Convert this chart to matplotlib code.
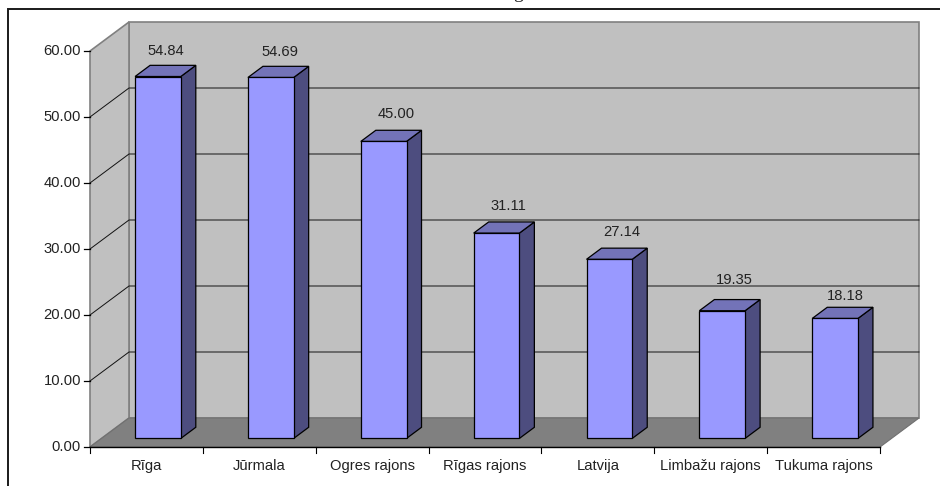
#!/usr/bin/env python

import matplotlib
matplotlib.use('Agg')
import matplotlib.pyplot as plt
from matplotlib.lines import Line2D
from matplotlib.patches import Polygon

CATEGORIES = ['Rīga', 'Jūrmala', 'Ogres rajons', 'Rīgas rajons', 'Latvija', 'Limbažu rajons', 'Tukuma rajons']
VALUES = [54.84, 54.69, 45.00, 31.11, 27.14, 19.35, 18.18]
VALUE_LABELS = ['54.84', '54.69', '45.00', '31.11', '27.14', '19.35', '18.18']
Y_TICKS = [0, 10, 20, 30, 40, 50, 60]
Y_TICK_LABELS = ['0.00', '10.00', '20.00', '30.00', '40.00', '50.00', '60.00']
# label placement differs per bar in the original, px
LABEL_NUDGE_X = [0, 2, 5, 4.5, 5, 5, 3]
LABEL_RISE = [14, 14.3, 16, 16, 15.7, 19.7, 11]

W, H = 940, 486
DPI = 100
PX_PER_CAT = 790 / 7.0
PX_PER_VAL = 396 / 60.0
DEPTH_X = 39 / PX_PER_CAT
DEPTH_Y = 29 / PX_PER_VAL
BAR_W = 0.405
GAP = (1 - BAR_W) / 2
D0, D1 = 0.295, 0.68
FONT = 'Liberation Sans'
FS = 10.6
TXT = '#222222'


def pt(x, y, depth=0.0):
    return (x + depth * DEPTH_X, y + depth * DEPTH_Y)


def main():
    fig = plt.figure(figsize=(W / DPI, H / DPI), dpi=DPI)
    ax = fig.add_axes([0, 0, 1, 1])
    ax.set_xlim(-90 / PX_PER_CAT, (W - 90) / PX_PER_CAT)
    ax.set_ylim(-(H - 447) / PX_PER_VAL, 447 / PX_PER_VAL)
    ax.axis('off')

    n = len(CATEGORIES)
    top = Y_TICKS[-1]

    # walls and floor
    ax.add_patch(Polygon([pt(0, 0, 1), pt(n, 0, 1), pt(n, top, 1), pt(0, top, 1)],
                         fc='#c0c0c0', ec='#808080', lw=1.2, zorder=1))
    ax.add_patch(Polygon([pt(0, 0, 0), pt(0, 0, 1), pt(0, top, 1), pt(0, top, 0)],
                         fc='#c0c0c0', ec='#808080', lw=1.2, zorder=1))
    ax.add_patch(Polygon([pt(0, 0, 0), pt(n, 0, 0), pt(n, 0, 1), pt(0, 0, 1)],
                         fc='#808080', ec='#707070', lw=0.8, zorder=1.5))

    # gridlines
    for v in Y_TICKS[1:-1]:
        x0, y0 = pt(0, v, 0)
        x1, y1 = pt(0, v, 1)
        x2, y2 = pt(n, v, 1)
        ax.plot([x0, x1, x2], [y0, y1, y2], color='#111111', lw=0.7, zorder=2,
                solid_joinstyle='miter')

    # axis lines and ticks
    ax.plot([0, n], [0, 0], color='black', lw=1.0, zorder=3)
    tick_x = 6 / PX_PER_CAT
    tick_y = 6 / PX_PER_VAL
    for v, lab in zip(Y_TICKS, Y_TICK_LABELS):
        ax.plot([-tick_x, 0], [v, v], color='black', lw=0.9, zorder=3)
        ax.text(-9 / PX_PER_CAT, v, lab, ha='right', va='center', family=FONT,
                fontsize=FS, color=TXT)
    for i in range(n + 1):
        ax.plot([i, i], [0, -tick_y], color='black', lw=0.8, zorder=3)
    for i, lab in enumerate(CATEGORIES):
        ax.text(i + 0.5, -19 / PX_PER_VAL, lab, ha='center', va='center', family=FONT,
                fontsize=FS, color=TXT)

    # bars
    for i, (v, lab) in enumerate(zip(VALUES, VALUE_LABELS)):
        xl, xr = i + GAP, i + GAP + BAR_W
        ax.add_patch(Polygon([pt(xr, 0, D0), pt(xr, 0, D1), pt(xr, v, D1), pt(xr, v, D0)],
                             fc='#4d4d7f', ec='black', lw=0.9, zorder=4, joinstyle='miter'))
        ax.add_patch(Polygon([pt(xl, v, D0), pt(xr, v, D0), pt(xr, v, D1), pt(xl, v, D1)],
                             fc='#7373b8', ec='black', lw=0.9, zorder=4, joinstyle='miter'))
        ax.add_patch(Polygon([pt(xl, 0, D0), pt(xr, 0, D0), pt(xr, v, D0), pt(xl, v, D0)],
                             fc='#9999ff', ec='black', lw=0.9, zorder=5, joinstyle='miter'))
        cx = pt((xl + xr) / 2, v, (D0 + D1) / 2)[0]
        cy = pt((xl + xr) / 2, v, D1)[1]
        ax.text(cx + LABEL_NUDGE_X[i] / PX_PER_CAT, cy + LABEL_RISE[i] / PX_PER_VAL, lab,
                ha='center', va='center', family=FONT, fontsize=FS, color=TXT, zorder=6)

    # outer frame, cut by the page edge
    fig.add_artist(Line2D([8 / W, 8 / W, 1], [0, 1 - 9 / H, 1 - 9 / H],
                          color='#1a1a1a', lw=1.4, solid_joinstyle='miter'))
    # tail of the cropped title
    fig.text(518 / W, 1 + 2 / H, 'g', ha='center', va='baseline', family='Liberation Serif',
             fontsize=14, color='#222222')

    plt.savefig('out.png', dpi=DPI)


if __name__ == '__main__':
    main()
